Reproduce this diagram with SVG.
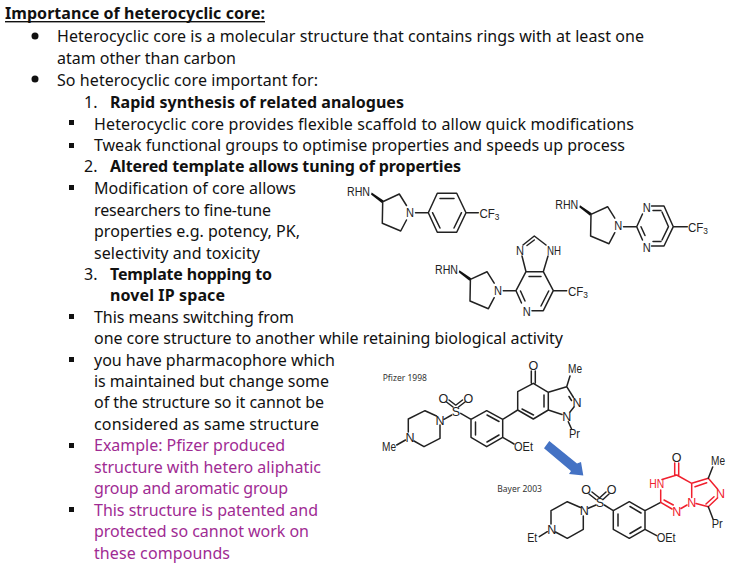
<svg xmlns="http://www.w3.org/2000/svg" width="741" height="580" viewBox="0 0 741 580">
<style>
.t{font-family:"Noto Sans","Open Sans",sans-serif;font-size:16px;fill:#111}
.b{font-weight:700}
.p{fill:#a02b93}
.c{font-family:"Liberation Sans",Arial,sans-serif;font-size:12.5px;fill:#222}
.m{text-anchor:middle}
.cap{font-family:"Noto Sans",sans-serif;font-size:8.5px;fill:#333}
.red{fill:#f0202e}
.k{fill:none;stroke:#222;stroke-width:1.5;stroke-linecap:round;stroke-linejoin:round}
.r{fill:none;stroke:#f0202e;stroke-width:1.5;stroke-linecap:round;stroke-linejoin:round}
.s{font-size:9px}
</style>
<defs>
<g id="pyr"><path class="k" d="M382.7 201.700L399.300 194L406.500 205.500M406.500 220L400.700 231L382.300 223.300L382.700 201.700"/><path d="M371.700 192.500L383.500 200.500L381.800 203L371 194.500Z" fill="#111"/></g>
</defs>
<rect width="741" height="580" fill="#fff"/>
<g id="notes">
<text class="t b" x="5" y="19" textLength="260">Importance of heterocyclic core:</text>
<rect x="5" y="21" width="260" height="1.400" fill="#111"/>
<text class="t" x="57" y="42" textLength="587">Heterocyclic core is a molecular structure that contains rings with at least one</text>
<text class="t" x="57" y="64" textLength="179">atam other than carbon</text>
<text class="t" x="57" y="86" textLength="261">So heterocyclic core important for:</text>
<text class="t" x="84" y="108">1.</text>
<text class="t b" x="110" y="108" textLength="294">Rapid synthesis of related analogues</text>
<text class="t" x="94" y="130" textLength="540">Heterocyclic core provides flexible scaffold to allow quick modifications</text>
<text class="t" x="94" y="151" textLength="531">Tweak functional groups to optimise properties and speeds up process</text>
<text class="t" x="84" y="172">2.</text>
<text class="t b" x="110" y="172" textLength="351">Altered template allows tuning of properties</text>
<text class="t" x="94" y="194" textLength="202">Modification of core allows</text>
<text class="t" x="94" y="216" textLength="177">researchers to fine-tune</text>
<text class="t" x="94" y="237" textLength="206">properties e.g. potency, PK,</text>
<text class="t" x="94" y="259" textLength="166">selectivity and toxicity</text>
<text class="t" x="84" y="280">3.</text>
<text class="t b" x="110" y="280" textLength="162">Template hopping to</text>
<text class="t b" x="110" y="301" textLength="115">novel IP space</text>
<text class="t" x="94" y="323" textLength="200">This means switching from</text>
<text class="t" x="94" y="344" textLength="469">one core structure to another while retaining biological activity</text>
<text class="t" x="94" y="366" textLength="241">you have pharmacophore which</text>
<text class="t" x="94" y="387" textLength="235">is maintained but change some</text>
<text class="t" x="94" y="408" textLength="230">of the structure so it cannot be</text>
<text class="t" x="94" y="430" textLength="225">considered as same structure</text>
<text class="t p" x="94" y="451" textLength="191">Example: Pfizer produced</text>
<text class="t p" x="94" y="473" textLength="227">structure with hetero aliphatic</text>
<text class="t p" x="94" y="494" textLength="194">group and aromatic group</text>
<text class="t p" x="94" y="516" textLength="224">This structure is patented and</text>
<text class="t p" x="94" y="537" textLength="215">protected so cannot work on</text>
<text class="t p" x="94" y="559" textLength="136">these compounds</text>
<g fill="#111">
<circle cx="35" cy="36" r="3.500"/><circle cx="35" cy="79" r="3.500"/>
<rect x="69" y="120" width="5" height="5"/><rect x="69" y="143" width="5" height="5"/><rect x="69" y="185" width="5" height="5"/><rect x="69" y="314" width="5" height="5"/><rect x="69" y="357" width="5" height="5"/><rect x="69" y="443" width="5" height="5"/><rect x="69" y="507" width="5" height="5"/>
</g>
</g>
<g id="mol1">
<text class="c" x="347" y="196" textLength="23" lengthAdjust="spacingAndGlyphs">RHN</text>
<use href="#pyr"/>
<text class="c m" x="410" y="217" textLength="8" lengthAdjust="spacingAndGlyphs">N</text>
<path class="k" d="M415.500 212.700H428.300L437.300 193.300H456.700L466 212.700L456.700 232.300H437.300L428.300 212.700M440 198.500H454M432.500 212.700L440 228M461.500 212.700L454 228M466 212.700H478.300"/>
<text class="c" x="479.500" y="218" textLength="20" lengthAdjust="spacingAndGlyphs">CF<tspan class="s" dy="2">3</tspan></text>
</g>
<g id="mol2">
<text class="c" x="555.300" y="208.700" textLength="23" lengthAdjust="spacingAndGlyphs">RHN</text>
<use href="#pyr" x="208.300" y="12.700"/>
<text class="c m" x="618.300" y="229.700" textLength="8" lengthAdjust="spacingAndGlyphs">N</text>
<path class="k" d="M623.500 226.700H636.700L642.500 214M651.500 206H664L673.300 226.700L664 246H651.500M642.500 240L636.700 226.700M641 226.700L645 235.500M668.500 226.700L662 212M668.500 226.700L662 240M653 210.500H661M653 241.500H661M673.300 226.700H687.300"/>
<text class="c m" x="646.700" y="211.500" textLength="8" lengthAdjust="spacingAndGlyphs">N</text><text class="c m" x="646.700" y="251.500" textLength="8" lengthAdjust="spacingAndGlyphs">N</text>
<text class="c" x="688" y="231.700" textLength="20" lengthAdjust="spacingAndGlyphs">CF<tspan class="s" dy="2">3</tspan></text>
</g>
<g id="mol3">
<text class="c" x="435" y="273.700" textLength="23" lengthAdjust="spacingAndGlyphs">RHN</text>
<use href="#pyr" x="87.700" y="77.700"/>
<text class="c m" x="498" y="295" textLength="8" lengthAdjust="spacingAndGlyphs">N</text>
<path class="k" d="M503.300 290.700H516L526 271.700H543.300L553.300 290.700L543.300 310.700H532M521.500 303L516 290.700M520.500 291L525 301M548.700 291L541 306M529 276.500H541M526 271.700L522 256M523 245L534.300 236L546 245M527 245.500L534.300 240M543.300 271.700L548 256M553.300 290.700H566.700"/>
<text class="c m" x="526.700" y="316" textLength="8" lengthAdjust="spacingAndGlyphs">N</text><text class="c m" x="520" y="255" textLength="8" lengthAdjust="spacingAndGlyphs">N</text><text class="c" x="547" y="255" textLength="14" lengthAdjust="spacingAndGlyphs">NH</text>
<text class="c" x="568" y="296" textLength="20" lengthAdjust="spacingAndGlyphs">CF<tspan class="s" dy="2">3</tspan></text>
</g>
<g id="pfizer">
<text class="cap" x="382.700" y="380.700">Pfizer 1998</text>
<path class="k" d="M436.500 416L425 410.700L408.300 419V432M414 441L424 446.700L440 438.300V425M396.700 445L405.500 440M444 419.300L451.700 415M446.500 402L453 407M449 400L455.500 405M465 402L458.500 407M462.500 400L456 405M460.700 413.300L471 419.300L486.700 410.700L502.700 419.300V437.300L486.700 446.700L471 437.300V419.300M475.500 422V435M487 415L499 421.500M487 442L499 435M502.700 437.300L514 444M502.700 419.300L517.700 410V391.700L533.300 383.300L548.300 392.300V410L533.300 419L517.700 410M522 409L533.500 415M544 395V407M531.300 371V383M535.300 371V383M548.300 392.300L566.700 386.700L573.500 397.500M569 396.500L571.500 400.500M566.700 386.700L570 376M548.300 410L562 414.500M574 407L570 412M568.300 421.700L571.700 429.300"/>
<text class="c m" x="443.300" y="402.800">O</text><text class="c m" x="468.300" y="402.800">O</text><text class="c m" x="456" y="415.500">S</text>
<text class="c m" x="440" y="424.500">N</text><text class="c m" x="410" y="442">N</text>
<text class="c" x="382" y="450.700" textLength="14" lengthAdjust="spacingAndGlyphs">Me</text>
<text class="c" x="514" y="450.700" textLength="19" lengthAdjust="spacingAndGlyphs">OEt</text>
<text class="c m" x="533.300" y="370">O</text>
<text class="c" x="568" y="373.300" textLength="14" lengthAdjust="spacingAndGlyphs">Me</text>
<text class="c m" x="577" y="406.500">N</text><text class="c m" x="566.700" y="421">N</text>
<text class="c" x="569" y="437.700" textLength="11" lengthAdjust="spacingAndGlyphs">Pr</text>
</g>
<g id="arrow"><polygon points="549.300,441 577,463.500 581,462 583.300,475.500 569,474 571,471 544,448.300" fill="#4472c4"/></g>
<g id="bayer">
<text class="cap" x="497.300" y="492.300">Bayer 2003</text>
<path class="k" d="M580.500 507.500L567.300 501.700L551 510.700V524M555.500 532L567.300 538.300L583.300 529.300V516M539.300 536.700L547.300 531.700M588.300 508.300L596 505M589 494L596 499.500M592 492L599 497.500M609 494L603 499.500M606 492L600 497.500M604.300 505L613.300 510.700L629.300 501.700L645 510.700V529.300L629.300 538.300L613.300 529.300V510.700M618 514V526M630 506.500L641 513M630 533.500L641 527M645 529.300L656.700 535.700M645 510.700L660.700 502.300"/>
<text class="c m" x="600" y="507">S</text><text class="c m" x="586" y="494.300">O</text><text class="c m" x="611.700" y="494.300">O</text>
<text class="c m" x="584.300" y="515.300">N</text><text class="c m" x="551.700" y="533.500">N</text>
<text class="c" x="527.300" y="542.300" textLength="10" lengthAdjust="spacingAndGlyphs">Et</text><text class="c" x="656.700" y="542.300" textLength="19" lengthAdjust="spacingAndGlyphs">OEt</text>
<path class="r" d="M660.700 502.300V490M662 479.500L676.700 475L691.700 483.300V497.500M687 505L681 508.500M672 509L660.700 502.300M664 500L673.300 505M691.700 483.300L708.300 478.300L717.500 489M717.500 498L708.300 506.700L696 503.500M695 486.700L706.700 482.700M706 504L714 496.700M674.700 463V475.700M678.700 463V475.700"/>
<path class="k" d="M708.300 478.300L712.700 467M708.300 506.700L713 519"/>
<text class="c red" x="649.300" y="487.700" textLength="15" lengthAdjust="spacingAndGlyphs">HN</text>
<text class="c m" x="676.700" y="461.800">O</text>
<text class="c red m" x="691.700" y="506.600">N</text><text class="c red m" x="676.700" y="516">N</text><text class="c red m" x="720.500" y="497.500">N</text>
<text class="c" x="711" y="465" textLength="14" lengthAdjust="spacingAndGlyphs">Me</text>
<text class="c" x="711.700" y="528.300" textLength="11" lengthAdjust="spacingAndGlyphs">Pr</text>
</g>
</svg>
